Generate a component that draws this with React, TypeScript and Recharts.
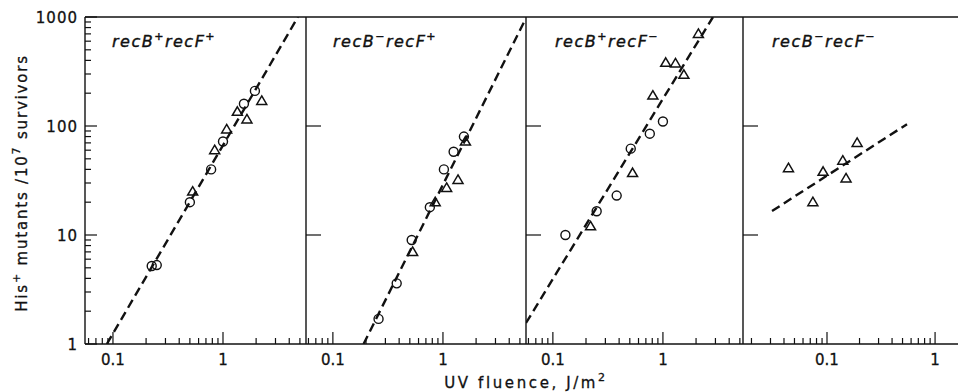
import { ScatterChart, Scatter, XAxis, YAxis, ReferenceLine } from "recharts";

// UV fluence (J/m2) vs His+ mutants per 1e7 survivors
// panel 1: recB+ recF+
const circ1X = [0.225, 0.25, 0.5, 0.78, 1.0, 1.55, 1.95];
const circ1Y = [5.2, 5.3, 20, 40, 72, 160, 210];
const tri1X = [0.53, 0.84, 1.08, 1.35, 1.65, 2.25];
const tri1Y = [25, 60, 93, 135, 115, 170];
const fit1X = [0.088, 4.8];
const fit1Y = [1, 1000];

// panel 2: recB- recF+
const circ2X = [0.26, 0.38, 0.52, 0.76, 1.02, 1.25, 1.55];
const circ2Y = [1.7, 3.6, 9, 18, 40, 58, 80];
const tri2X = [0.53, 0.85, 1.08, 1.37, 1.6];
const tri2Y = [7, 20, 27, 32, 72];
const fit2X = [0.19, 5.6];
const fit2Y = [1, 950];

// panel 3: recB+ recF-
const circ3X = [0.13, 0.25, 0.38, 0.51, 0.76, 1.0];
const circ3Y = [10, 16.5, 23, 62, 85, 110];
const tri3X = [0.22, 0.53, 0.81, 1.06, 1.3, 1.55, 2.1];
const tri3Y = [12, 37, 190, 380, 375, 295, 700];
const fit3X = [0.057, 2.85];
const fit3Y = [1.56, 1000];

// panel 4: recB- recF-
const tri4X = [0.044, 0.074, 0.092, 0.14, 0.15, 0.19];
const tri4Y = [41, 20, 38, 48, 33, 70];
const fit4X = [0.031, 0.55];
const fit4Y = [16.6, 104];

const xMajor = [0.1, 1];
const xMinorWide = [0.06, 0.07, 0.08, 0.09, 0.2, 0.3, 0.4, 0.5, 0.6, 0.7, 0.8, 0.9, 2, 3, 4, 5];
const xMinorNarrow = [0.02, 0.03, 0.04, 0.05, 0.06, 0.07, 0.08, 0.09, 0.2, 0.3, 0.4, 0.5, 0.6, 0.7, 0.8, 0.9];
const yMajor = [1, 10, 100, 1000];
const yMinor = [2, 3, 4, 5, 6, 7, 8, 9, 20, 30, 40, 50, 60, 70, 80, 90, 200, 300, 400, 500, 600, 700, 800, 900];
const yInner = [10, 100];

const INK = "#111";
const FONT = '"DejaVu Sans", "Liberation Sans", sans-serif';

const pts = (xs: number[], ys: number[]) => xs.map((x, i) => ({ x, y: ys[i] }));

const Circle = (p: any) => (
  <circle cx={p.cx} cy={p.cy} r={4.5} fill="none" stroke={INK} strokeWidth={1.4} />
);
const Triangle = (p: any) => (
  <path
    d={`M${p.cx},${p.cy - 5} L${p.cx + 5},${p.cy + 3.5} L${p.cx - 5},${p.cy + 3.5} Z`}
    fill="none"
    stroke={INK}
    strokeWidth={1.5}
  />
);
const Nothing = () => <g />;

const XTick = (p: any) => {
  const v = p.payload.value;
  const major = xMajor.includes(v);
  return (
    <g>
      <line x1={p.x} x2={p.x} y1={p.y} y2={p.y - (major ? 12 : 6)} stroke={INK} strokeWidth={1.2} />
      {major && (
        <text x={p.x} y={p.y + 21} textAnchor="middle" fontFamily={FONT} fontSize={15}
          fill={INK} stroke={INK} strokeWidth={0.3}>
          {v}
        </text>
      )}
    </g>
  );
};

const YTickLabeled = (p: any) => {
  const v = p.payload.value;
  const major = yMajor.includes(v);
  return (
    <g>
      <line x1={p.x} x2={p.x + (major ? 12 : 6)} y1={p.y} y2={p.y} stroke={INK} strokeWidth={1.2} />
      {major && (
        <text x={p.x - 7} y={p.y + 5.5} textAnchor="end" fontFamily={FONT} fontSize={15} letterSpacing={1}
          fill={INK} stroke={INK} strokeWidth={0.3}>
          {v}
        </text>
      )}
    </g>
  );
};

const YTickInner = (p: any) => (
  <line x1={p.x} x2={p.x + 15} y1={p.y} y2={p.y} stroke={INK} strokeWidth={1.2} />
);

interface PanelProps {
  left: number;
  width: number;
  yW: number;
  domain: [number, number];
  xMinor: number[];
  circles: { x: number; y: number }[];
  triangles: { x: number; y: number }[];
  fit: { x: number; y: number }[];
  labeled: boolean;
}

function Panel({ left, width, yW, domain, xMinor, circles, triangles, fit, labeled }: PanelProps) {
  return (
    <ScatterChart
      width={width}
      height={392}
      margin={{ top: 17, right: 0, bottom: 0, left: 0 }}
      style={{ position: "absolute", left, top: 0 }}
    >
      <XAxis
        dataKey="x"
        type="number"
        scale="log"
        domain={domain}
        allowDataOverflow
        ticks={[...xMajor, ...xMinor]}
        interval={0}
        tickLine={false}
        tickSize={0}
        tickMargin={0}
        tick={<XTick />}
        axisLine={false}
        height={48}
      />
      <YAxis
        dataKey="y"
        type="number"
        scale="log"
        domain={[1, 1000]}
        allowDataOverflow
        ticks={labeled ? [...yMajor, ...yMinor] : yInner}
        interval={0}
        tickLine={false}
        tickSize={0}
        tickMargin={0}
        tick={labeled ? <YTickLabeled /> : <YTickInner />}
        axisLine={{ stroke: INK, strokeWidth: 1.4 }}
        width={yW}
      />
      <ReferenceLine y={1000} stroke={INK} strokeWidth={1.4} />
      <ReferenceLine y={1} stroke={INK} strokeWidth={1.4} />
      <Scatter
        data={fit}
        fill={INK}
        shape={<Nothing />}
        line={{ stroke: INK, strokeWidth: 2.4, strokeDasharray: "9 5" }}
        isAnimationActive={false}
      />
      {circles.length > 0 && (
        <Scatter data={circles} fill={INK} shape={<Circle />} isAnimationActive={false} />
      )}
      <Scatter data={triangles} fill={INK} shape={<Triangle />} isAnimationActive={false} />
    </ScatterChart>
  );
}

const Sup = ({ children }: { children: string }) => (
  <tspan dy={-7} fontSize={11}>
    {children}
  </tspan>
);

function PanelLabel({ x, b, f }: { x: number; b: string; f: string }) {
  return (
    <text x={x} y={47} fontFamily={FONT} fontStyle="italic" fontSize={16} letterSpacing={1.5}
      fill={INK} stroke={INK} strokeWidth={0.4}>
      recB
      <Sup>{b}</Sup>
      <tspan dy={7}>recF</tspan>
      <Sup>{f}</Sup>
    </text>
  );
}

export default function App() {
  return (
    <div style={{ position: "absolute", left: 0, top: 0, width: 958, height: 392, background: "#fff", overflow: "hidden" }}>
      <Panel left={0} width={306} yW={85} domain={[0.0557, 5.68]} xMinor={xMinorWide}
        circles={pts(circ1X, circ1Y)} triangles={pts(tri1X, tri1Y)} fit={pts(fit1X, fit1Y)} labeled />
      <Panel left={305} width={221} yW={1} domain={[0.057, 5.68]} xMinor={xMinorWide}
        circles={pts(circ2X, circ2Y)} triangles={pts(tri2X, tri2Y)} fit={pts(fit2X, fit2Y)} labeled={false} />
      <Panel left={525} width={218} yW={1} domain={[0.057, 5.34]} xMinor={xMinorWide}
        circles={pts(circ3X, circ3Y)} triangles={pts(tri3X, tri3Y)} fit={pts(fit3X, fit3Y)} labeled={false} />
      <Panel left={742} width={216} yW={1} domain={[0.0167, 1.63]} xMinor={xMinorNarrow}
        circles={[]} triangles={pts(tri4X, tri4Y)} fit={pts(fit4X, fit4Y)} labeled={false} />
      <svg width={958} height={392} style={{ position: "absolute", left: 0, top: 0, pointerEvents: "none" }}>
        <PanelLabel x={112} b="+" f="+" />
        <PanelLabel x={333} b="−" f="+" />
        <PanelLabel x={555} b="+" f="−" />
        <PanelLabel x={772} b="−" f="−" />
        <text
          transform="translate(27,183) rotate(-90)"
          textAnchor="middle"
          fontFamily={FONT}
          fontSize={15}
          letterSpacing={1.8}
          fill={INK}
          stroke={INK}
          strokeWidth={0.3}
        >
          His
          <Sup>+</Sup>
          <tspan dy={7}> mutants /10</tspan>
          <Sup>7</Sup>
          <tspan dy={7}> survivors</tspan>
        </text>
        <text x={526} y={388} textAnchor="middle" fontFamily={FONT} fontSize={15} letterSpacing={2.6}
          fill={INK} stroke={INK} strokeWidth={0.3}>
          UV fluence, J/m
          <Sup>2</Sup>
        </text>
      </svg>
    </div>
  );
}
